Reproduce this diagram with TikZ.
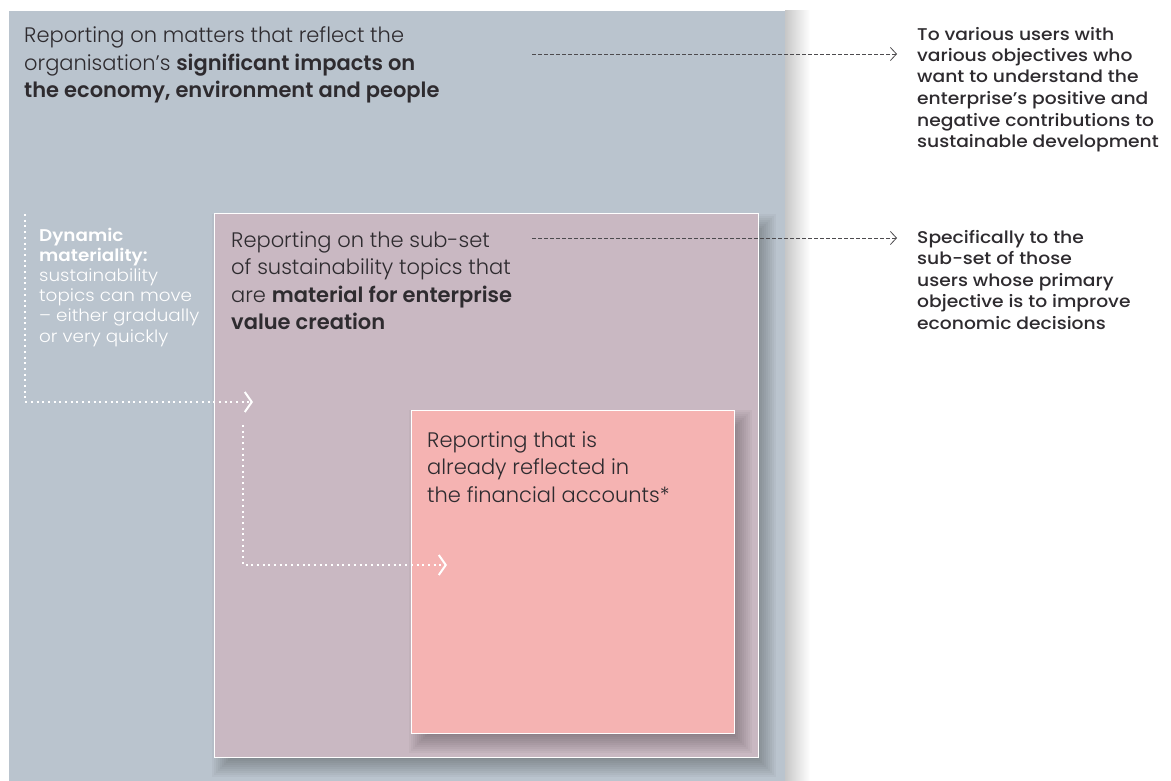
\documentclass[tikz,border=0pt]{standalone}
\usepackage{fontspec}
\setmainfont{Poppins}[UprightFont=* Light, BoldFont=* SemiBold]
\newfontfamily\sidefont{Poppins}[UprightFont=* Medium, BoldFont=* SemiBold, FakeStretch=1.1]
\newfontfamily\dynfont{Poppins}[UprightFont=* Light, BoldFont=* SemiBold, FakeStretch=1.08]
\usetikzlibrary{arrows.meta}

\definecolor{outerblue}{HTML}{BAC4CE}
\definecolor{mauve}{HTML}{C9B8C2}
\definecolor{salmon}{HTML}{F5B3B2}
\definecolor{inkgray}{HTML}{2E2B2F}

\begin{document}
\begin{tikzpicture}[x=1pt,y=-1pt,
	bigtext/.style={anchor=base west,inner sep=0pt,align=left,text=inkgray,font=\fontsize{21}{27.5}\selectfont},
	sidetext/.style={anchor=base west,inner sep=0pt,align=left,text=inkgray,font=\sidefont\fontsize{17}{21.5}\selectfont},
	dyntext/.style={anchor=base west,inner sep=0pt,align=left,text=white,font=\dynfont\fontsize{17}{20.2}\selectfont},
	linkarrow/.style={draw=inkgray!85,line width=0.8pt,dash pattern=on 4pt off 2pt,-{Straight Barb[length=6pt,width=13pt,line width=0.8pt]}},
	dotarrow/.style={draw=white,line width=2pt,dash pattern=on 2pt off 3.7pt,-{Straight Barb[length=7pt,width=20pt,line width=2pt]}}]
			\useasboundingbox (0,0) rectangle (1171,781);
			\fill[white] (0,0) rectangle (1171,781);
			% the three boxes, each with a soft shadow
			\shade[left color=black!22,right color=white] (785,11) rectangle (810,781);
			\fill[outerblue] (9,11) rectangle (785,781);
			\foreach \r in {-10,-8,...,10}
				\fill[black,opacity=0.03] (222-\r,224-\r) rectangle (766+\r,767+\r);
			\filldraw[fill=mauve,draw=white,line width=1pt] (214,214) rectangle (758,757);
			\foreach \r in {-10,-8,...,10}
				\fill[black,opacity=0.03] (419-\r,420-\r) rectangle (742+\r,743+\r);
			\filldraw[fill=salmon,draw=white,line width=1pt] (411,410) rectangle (734,733);
			% texts (placed by the baseline of their last line)
			\node[bigtext] (impacts) at (24,98) {Reporting on matters that reflect the\\organisation’s \textbf{significant impacts on}\\\textbf{the economy, environment and people}};
			\node[bigtext] (subset) at (231,329.5) {Reporting on the sub-set\\of sustainability topics that\\are \textbf{material for enterprise}\\\textbf{value creation}};
			\node[bigtext] (accounts) at (427,502) {Reporting that is\\already reflected in\\the financial accounts*};
			\node[dyntext] (dynamic) at (39,342) {\textbf{Dynamic}\\\textbf{materiality:}\\sustainability\\topics can move\\– either gradually\\or very quickly};
			\node[sidetext] (usersall) at (917,147.5) {To various users with\\various objectives who\\want to understand the\\enterprise’s positive and\\negative contributions to\\sustainable development};
			\node[sidetext] (usersfin) at (917,329) {Specifically to the\\sub-set of those\\users whose primary\\objective is to improve\\economic decisions};
			% connectors
			\coordinate (impactsout) at (532,54);
			\coordinate (subsetout) at (532,238);
			\draw[linkarrow,shorten >=20pt] (impactsout) -- (impactsout -| usersall.west);
			\draw[linkarrow,shorten >=20pt] (subsetout) -- (subsetout -| usersfin.west);
			\coordinate (dyntop) at (25,214);
			\coordinate (subsetentry) at (253,402);
			\coordinate (subsetdown) at (243,425);
			\coordinate (accountsentry) at (447,565);
			\draw[dotarrow] (dyntop) |- (subsetentry);
			\draw[dotarrow] (subsetdown) |- (accountsentry);
\end{tikzpicture}
\end{document}
